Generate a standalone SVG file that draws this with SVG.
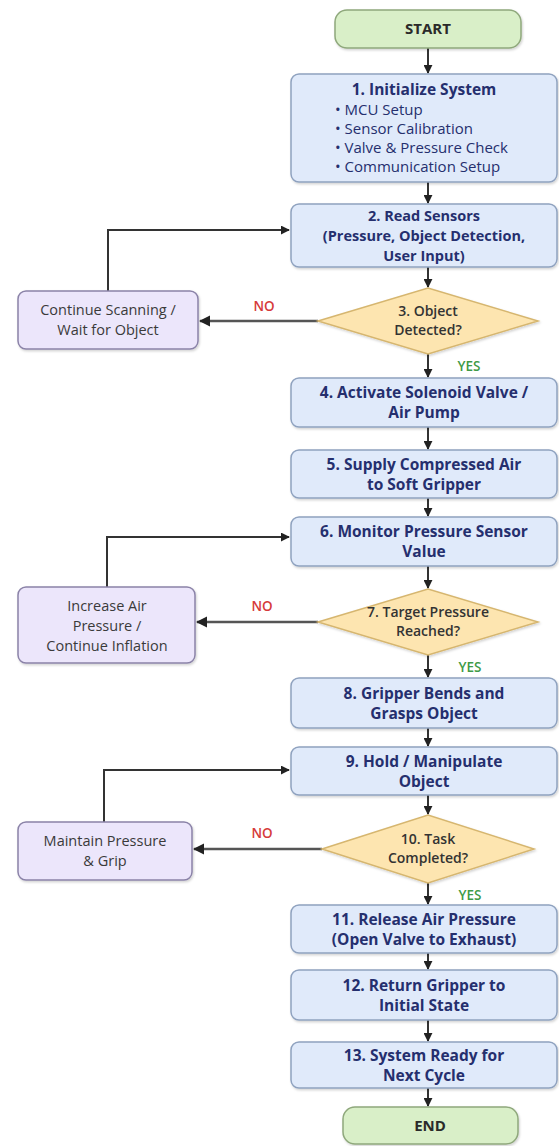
<svg xmlns="http://www.w3.org/2000/svg" width="559" height="1146" viewBox="0 0 559 1146">
<style>
text{font-family:"Open Sans","DejaVu Sans",sans-serif;text-anchor:middle}
.term{fill:#d9efc8;stroke:#8fa87c;stroke-width:1.5}
.proc{fill:#e0eafa;stroke:#8fa2bf;stroke-width:1.5}
.dec{fill:#fde5b0;stroke:#d6b66f;stroke-width:1.5}
.side{fill:#ece6fb;stroke:#8b83a8;stroke-width:1.5}
.sh{filter:url(#shadow)}
.tt{font-size:15px;font-weight:700;fill:#2a2a2a}
.pt{font-size:15.5px;font-weight:700;fill:#252f6e}
.pt3{font-size:14.5px;font-weight:700;fill:#252f6e}
.bt{font-size:15px;font-weight:400;fill:#252f6e;text-anchor:start}
.dt{font-size:14px;font-weight:600;fill:#333}
.st{font-size:14.5px;font-weight:400;fill:#3a3a3a}
.no{font-size:13.5px;font-weight:600;fill:#d63a3a}
.yes{font-size:13.5px;font-weight:600;fill:#3f9a46}
.ln{fill:none;stroke:#333;stroke-width:2}
.lg{fill:none;stroke:#555;stroke-width:2.5}
</style>
<defs>
<filter id="shadow" x="-10%" y="-10%" width="120%" height="130%">
<feDropShadow dx="1" dy="1.5" stdDeviation="1.2" flood-color="#000" flood-opacity="0.18"/>
</filter>
<marker id="ah" viewBox="0 0 10 10" refX="9" refY="5" markerWidth="4.5" markerHeight="4.5" orient="auto" markerUnits="strokeWidth">
<path d="M0,0 L10,5 L0,10 z" fill="#222"/>
</marker>
</defs>

<g id="connectors">
<line class="ln" x1="428" y1="48" x2="428" y2="73" marker-end="url(#ah)"/>
<line class="ln" x1="428" y1="182" x2="428" y2="203" marker-end="url(#ah)"/>
<line class="ln" x1="428" y1="267" x2="428" y2="287" marker-end="url(#ah)"/>
<line class="ln" x1="428" y1="354" x2="428" y2="377" marker-end="url(#ah)"/>
<line class="ln" x1="428" y1="427" x2="428" y2="449" marker-end="url(#ah)"/>
<line class="ln" x1="428" y1="498" x2="428" y2="516" marker-end="url(#ah)"/>
<line class="ln" x1="428" y1="566" x2="428" y2="588" marker-end="url(#ah)"/>
<line class="ln" x1="428" y1="655" x2="428" y2="677" marker-end="url(#ah)"/>
<line class="ln" x1="428" y1="728" x2="428" y2="746" marker-end="url(#ah)"/>
<line class="ln" x1="428" y1="795" x2="428" y2="814" marker-end="url(#ah)"/>
<line class="ln" x1="428" y1="883" x2="428" y2="904" marker-end="url(#ah)"/>
<line class="ln" x1="428" y1="953" x2="428" y2="969" marker-end="url(#ah)"/>
<line class="ln" x1="428" y1="1020" x2="428" y2="1041" marker-end="url(#ah)"/>
<line class="ln" x1="428" y1="1088" x2="428" y2="1106" marker-end="url(#ah)"/>
<line class="lg" x1="318" y1="321" x2="200" y2="321" marker-end="url(#ah)"/>
<line class="lg" x1="318" y1="622" x2="197" y2="622" marker-end="url(#ah)"/>
<line class="lg" x1="322" y1="849" x2="194" y2="849" marker-end="url(#ah)"/>
<polyline class="ln" points="108,291 108,230 289,230" marker-end="url(#ah)"/>
<polyline class="ln" points="107,587 107,537 289,537" marker-end="url(#ah)"/>
<polyline class="ln" points="104,822 104,770 289,770" marker-end="url(#ah)"/>
<text class="no" x="264" y="311">NO</text>
<text class="no" x="262" y="611">NO</text>
<text class="no" x="262" y="838">NO</text>
<text class="yes" x="469" y="371">YES</text>
<text class="yes" x="470" y="672">YES</text>
<text class="yes" x="470" y="900">YES</text>
</g>

<g id="start"><rect class="term sh" x="335" y="10" width="186" height="38" rx="12"/><text class="tt" x="428" y="34">START</text></g>

<g id="step1"><rect class="proc sh" x="291" y="74" width="266" height="108" rx="8"/>
<text class="pt" x="424" y="95">1. Initialize System</text>
<text class="bt" x="335" y="115">•  MCU Setup</text>
<text class="bt" x="335" y="134">•  Sensor Calibration</text>
<text class="bt" x="335" y="153">•  Valve &amp; Pressure Check</text>
<text class="bt" x="335" y="172">•  Communication Setup</text>
</g>

<g id="step2"><rect class="proc sh" x="291" y="204" width="266" height="63" rx="8"/>
<text class="pt3" x="424" y="221">2. Read Sensors</text>
<text class="pt3" x="424" y="241">(Pressure, Object Detection,</text>
<text class="pt3" x="424" y="261">User Input)</text>
</g>

<g id="step3"><polygon class="dec sh" points="318,321 428,288 538,321 428,354"/>
<text class="dt" x="428" y="316">3. Object</text>
<text class="dt" x="428" y="335">Detected?</text>
</g>

<g id="wait"><rect class="side sh" x="18" y="291" width="180" height="58" rx="8"/>
<text class="st" x="108" y="315">Continue Scanning /</text>
<text class="st" x="108" y="335">Wait for Object</text>
</g>

<g id="step4"><rect class="proc sh" x="291" y="378" width="266" height="49" rx="8"/>
<text class="pt" x="424" y="398">4. Activate Solenoid Valve /</text>
<text class="pt" x="424" y="418">Air Pump</text>
</g>

<g id="step5"><rect class="proc sh" x="291" y="450" width="266" height="48" rx="8"/>
<text class="pt" x="424" y="470">5. Supply Compressed Air</text>
<text class="pt" x="424" y="490">to Soft Gripper</text>
</g>

<g id="step6"><rect class="proc sh" x="291" y="517" width="266" height="49" rx="8"/>
<text class="pt" x="424" y="537">6. Monitor Pressure Sensor</text>
<text class="pt" x="424" y="557">Value</text>
</g>

<g id="step7"><polygon class="dec sh" points="318,622 428,589 538,622 428,655"/>
<text class="dt" x="428" y="617">7. Target Pressure</text>
<text class="dt" x="428" y="636">Reached?</text>
</g>

<g id="inflate"><rect class="side sh" x="18" y="587" width="177" height="76" rx="8"/>
<text class="st" x="107" y="611">Increase Air</text>
<text class="st" x="107" y="631">Pressure /</text>
<text class="st" x="107" y="651">Continue Inflation</text>
</g>

<g id="step8"><rect class="proc sh" x="291" y="678" width="266" height="50" rx="8"/>
<text class="pt" x="424" y="699">8. Gripper Bends and</text>
<text class="pt" x="424" y="719">Grasps Object</text>
</g>

<g id="step9"><rect class="proc sh" x="291" y="747" width="266" height="48" rx="8"/>
<text class="pt" x="424" y="767">9. Hold / Manipulate</text>
<text class="pt" x="424" y="787">Object</text>
</g>

<g id="step10"><polygon class="dec sh" points="322,849 428,815 534,849 428,883"/>
<text class="dt" x="428" y="844">10. Task</text>
<text class="dt" x="428" y="863">Completed?</text>
</g>

<g id="maintain"><rect class="side sh" x="18" y="822" width="174" height="58" rx="8"/>
<text class="st" x="105" y="846">Maintain Pressure</text>
<text class="st" x="105" y="866">&amp; Grip</text>
</g>

<g id="step11"><rect class="proc sh" x="291" y="905" width="266" height="48" rx="8"/>
<text class="pt" x="424" y="925">11. Release Air Pressure</text>
<text class="pt" x="424" y="945">(Open Valve to Exhaust)</text>
</g>

<g id="step12"><rect class="proc sh" x="291" y="970" width="266" height="50" rx="8"/>
<text class="pt" x="424" y="991">12. Return Gripper to</text>
<text class="pt" x="424" y="1011">Initial State</text>
</g>

<g id="step13"><rect class="proc sh" x="291" y="1042" width="266" height="46" rx="8"/>
<text class="pt" x="424" y="1061">13. System Ready for</text>
<text class="pt" x="424" y="1081">Next Cycle</text>
</g>

<g id="end"><rect class="term sh" x="343" y="1107" width="175" height="37" rx="12"/><text class="tt" x="430" y="1131">END</text></g>
</svg>
